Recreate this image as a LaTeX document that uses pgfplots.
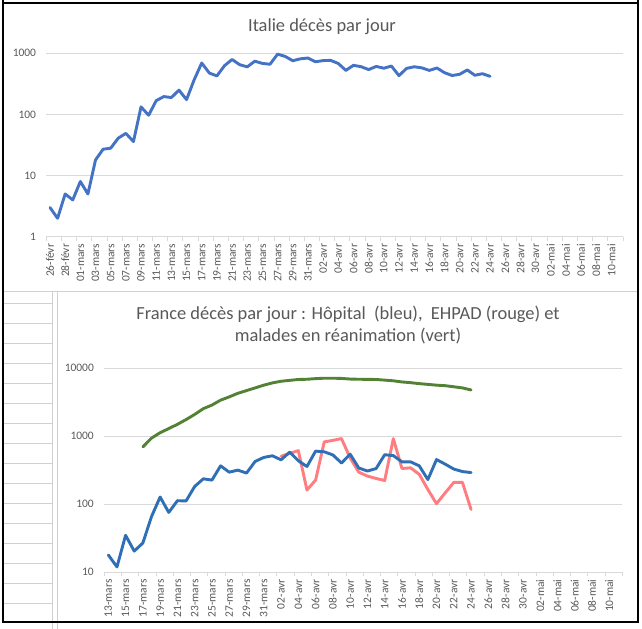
\documentclass[border=0pt]{standalone}
\usepackage{pgfplots}
\pgfplotsset{compat=1.18}
\usepackage{fontspec}
\setmainfont{Carlito}
\definecolor{txtgray}{HTML}{595959}
\definecolor{gridgray}{HTML}{D9D9D9}
\definecolor{cellgray}{HTML}{D0D0D0}
\definecolor{itblue}{HTML}{4472C4}
\definecolor{frblue}{HTML}{2E6FB5}
\definecolor{frred}{HTML}{FF7C80}
\definecolor{frgreen}{HTML}{548235}

\pgfplotstableread{
x y
0 3
1 2
2 5
3 4
4 8
5 5
6 18
7 27
8 28
9 41
10 49
11 36
12 133
13 97
14 168
15 196
16 189
17 250
18 175
19 368
20 694
21 475
22 427
23 627
24 793
25 651
26 601
27 743
28 683
29 662
30 969
31 889
32 756
33 812
34 837
35 727
36 760
37 766
38 681
39 525
40 636
41 604
42 542
43 610
44 570
45 619
46 431
47 566
48 602
49 578
50 525
51 575
52 482
53 433
54 454
55 534
56 437
57 464
58 420
}\italie

\pgfplotstableread{
x y
0 18
1 12
2 35
3 20.5
4 27
5 66
6 128
7 76
8 113
9 112
10 183
11 237
12 227
13 368
14 297
15 318
16 288
17 427
18 489
19 517
20 451
21 585
22 437
23 360
24 605
25 592
26 532
27 405
28 546
29 342
30 309
31 335
32 536
33 520
34 421
35 421
36 368
37 231
38 455
39 390
40 330
41 303
42 293
}\hopital

\pgfplotstableread{
x y
20 510
21 560
22 616
23 162
24 227
25 826
26 872
27 925
28 480
29 297
30 260
31 240
32 224
33 925
34 336
35 344
36 276
37 165
38 102
39 147
40 210
41 210
42 84
}\ehpad

\pgfplotstableread{
x y
4 699
5 940
6 1130
7 1300
8 1500
9 1760
10 2100
11 2550
12 2880
13 3400
14 3800
15 4290
16 4700
17 5150
18 5650
19 6100
20 6450
21 6650
22 6850
23 6900
24 7050
25 7150
26 7150
27 7100
28 6950
29 6900
30 6880
31 6850
32 6700
33 6550
34 6300
35 6150
36 5950
37 5800
38 5650
39 5550
40 5350
41 5150
42 4800
}\reanim

\begin{document}
\begin{tikzpicture}
\path[use as bounding box, fill=white] (0bp,0bp) rectangle (642bp,-629bp);

% ---- Italie
\begin{axis}[
  ymode=log,
  scale only axis,
  axis x line*=bottom,
  axis y line*=left,
  y axis line style={draw=none},
  x axis line style={gridgray, line width=0.8bp},
  ymajorgrids,
  major grid style={gridgray, line width=0.8bp},
  major tick length=0pt,
  minor tick length=4bp,
  tick align=outside,
  minor tick style={gridgray, line width=0.6bp},
  ytick style={draw=none},
  ticklabel style={font=\fontsize{11.5}{13}\selectfont, text=txtgray},
  xticklabel style={rotate=90, anchor=east, inner sep=0pt},
  xticklabel shift=7bp,
  yticklabel style={anchor=east, inner sep=0pt},
  yticklabel shift=10bp,
  clip=false,
  at={(46.2bp,-236.7bp)}, anchor=south west,
  width=576.6bp, height=183.4bp,
  xmin=-0.5, xmax=75.5, ymin=1, ymax=1000,
  ytick={1,10,100,1000}, yticklabels={1,10,100,1000},
  xtick={0,2,...,74},
  minor xtick={-0.5,1.5,...,75.5},
  xticklabels={26-févr,28-févr,01-mars,03-mars,05-mars,07-mars,09-mars,11-mars,13-mars,15-mars,17-mars,19-mars,21-mars,23-mars,25-mars,27-mars,29-mars,31-mars,02-avr,04-avr,06-avr,08-avr,10-avr,12-avr,14-avr,16-avr,18-avr,20-avr,22-avr,24-avr,26-avr,28-avr,30-avr,02-mai,04-mai,06-mai,08-mai,10-mai},
]
\addplot[line width=2.9bp, line join=round, line cap=round, no markers, itblue] table[x=x,y=y] {\italie};
\end{axis}

% ---- France
\begin{axis}[
  ymode=log,
  scale only axis,
  axis x line*=bottom,
  axis y line*=left,
  y axis line style={draw=none},
  x axis line style={gridgray, line width=0.8bp},
  ymajorgrids,
  major grid style={gridgray, line width=0.8bp},
  major tick length=0pt,
  minor tick length=4bp,
  tick align=outside,
  minor tick style={gridgray, line width=0.6bp},
  ytick style={draw=none},
  ticklabel style={font=\fontsize{11.5}{13}\selectfont, text=txtgray},
  xticklabel style={rotate=90, anchor=east, inner sep=0pt},
  xticklabel shift=7bp,
  yticklabel style={anchor=east, inner sep=0pt},
  yticklabel shift=10bp,
  clip=false,
  at={(104bp,-572.3bp)}, anchor=south west,
  width=518.2bp, height=204bp,
  xmin=-0.5, xmax=59.5, ymin=10, ymax=10000,
  ytick={10,100,1000,10000}, yticklabels={10,100,1000,10000},
  xtick={0,2,...,58},
  minor xtick={-0.5,1.5,...,59.5},
  xticklabels={13-mars,15-mars,17-mars,19-mars,21-mars,23-mars,25-mars,27-mars,29-mars,31-mars,02-avr,04-avr,06-avr,08-avr,10-avr,12-avr,14-avr,16-avr,18-avr,20-avr,22-avr,24-avr,26-avr,28-avr,30-avr,02-mai,04-mai,06-mai,08-mai,10-mai},
]
\addplot[line width=2.9bp, line join=round, line cap=round, no markers, frred] table[x=x,y=y] {\ehpad};
\addplot[line width=2.9bp, line join=round, line cap=round, no markers, frblue] table[x=x,y=y] {\hopital};
\addplot[line width=2.9bp, line join=round, line cap=round, no markers, frgreen] table[x=x,y=y] {\reanim};
\end{axis}

% ---- titles
\node[text=txtgray, font=\fontsize{18.5}{22}\selectfont] at (322bp,-27bp) {Italie décès par jour};
\node[text=txtgray, font=\fontsize{18.5}{22}\selectfont, align=center] at (348bp,-325bp)
  {France décès par jour : Hôpital\ \ (bleu),\ \ EHPAD (rouge) et\\[1bp] malades en réanimation (vert)};

% ---- spreadsheet decoration
\begin{scope}[x=1bp, y=-1bp]
  \foreach \yy in {303,323,...,603} \draw[cellgray, line width=0.7bp] (4,\yy) -- (52,\yy);
  \draw[cellgray, line width=0.7bp] (52,291) -- (52,629);
  \draw[cellgray, line width=0.7bp] (57,291) -- (57,629);
  \draw[cellgray, line width=0.7bp] (3,291) -- (638,291);
  \draw[black, line width=1.6bp] (3,0) -- (3,622) -- (638,622) -- (638,0);
  \draw[black, line width=1.6bp] (3,3) -- (638,3);
\end{scope}
\end{tikzpicture}
\end{document}
